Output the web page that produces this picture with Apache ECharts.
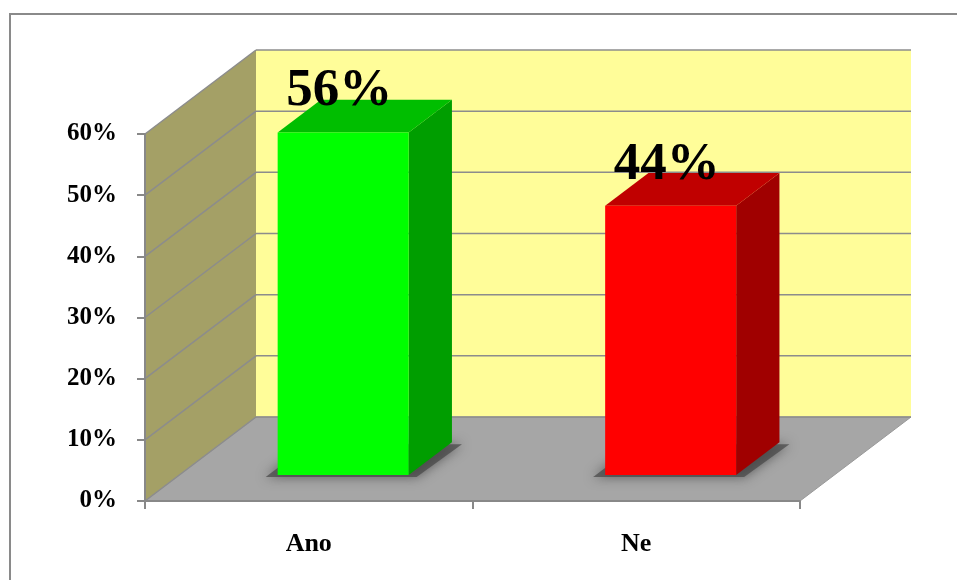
<!DOCTYPE html>
<html>
<head>
<meta charset="utf-8">
<title>Ano / Ne</title>
<script src="https://cdn.jsdelivr.net/npm/echarts@6/dist/echarts.min.js"></script>
<style>
  html, body { margin: 0; padding: 0; background: #fff; }
  #chart { width: 957px; height: 580px; }
</style>
</head>
<body>
<div id="chart"></div>
<script>
// data
const categories = ['Ano', 'Ne']
const shares = [0.56, 0.44]
const yTicks = [0, 0.1, 0.2, 0.3, 0.4, 0.5, 0.6]

// 3d look
const DX = 111, DY = -84        // depth of the box in pixels
const Z0 = 0.31, Z1 = 0.70      // where the bars sit inside the depth
const faceColors = [
  { front: '#00FF00', top: '#00BE00', side: '#009E00' },
  { front: '#FF0000', top: '#C00000', side: '#A00000' }
]
const gridColor = '#8C8C8C'
const serif = '"Liberation Serif", "Times New Roman", serif'

const chart = echarts.init(document.getElementById('chart'), null, { renderer: 'canvas' })

function renderWalls(params, api) {
  const cs = params.coordSys
  const x0 = cs.x, x1 = cs.x + cs.width
  const yTop = cs.y, yBot = cs.y + cs.height
  const children = [
    { type: 'rect', shape: { x: x0 + DX, y: yTop + DY, width: cs.width, height: cs.height },
      style: { fill: '#FFFD99' } },
    { type: 'polygon', shape: { points: [[x0, yTop], [x0 + DX, yTop + DY], [x0 + DX, yBot + DY], [x0, yBot]] },
      style: { fill: '#A4A066' } },
    { type: 'polygon', shape: { points: [[x0, yBot], [x0 + DX, yBot + DY], [x1 + DX, yBot + DY], [x1, yBot]] },
      style: { fill: '#A6A6A6', stroke: '#999', lineWidth: 1 } }
  ]
  yTicks.forEach(v => {
    const y = api.coord([0, v])[1]
    children.push({ type: 'line', shape: { x1: x0 + DX, y1: y + DY, x2: x1 + DX, y2: y + DY },
      style: { stroke: gridColor, lineWidth: 1.5 } })
    children.push({ type: 'line', shape: { x1: x0, y1: y, x2: x0 + DX, y2: y + DY },
      style: { stroke: gridColor, lineWidth: 1.5 } })
  })
  return { type: 'group', children: children }
}

function renderBar(params, api) {
  const i = params.dataIndex
  const top = api.coord([api.value(0), api.value(1)])
  const base = api.coord([api.value(0), 0])
  const w = api.size([1, 0])[0] * 0.4
  const L = top[0] - w / 2, R = top[0] + w / 2
  const ox0 = DX * Z0, oy0 = DY * Z0, ox1 = DX * Z1, oy1 = DY * Z1
  const c = faceColors[i]
  return {
    type: 'group',
    children: [
      // soft shadow on the floor
      { type: 'polygon',
        shape: { points: [[L + ox0 - 12, base[1] + oy0 + 2], [L + ox1 - 12, base[1] + oy1 + 2],
                          [R + ox1 + 10, base[1] + oy1 + 2], [R + ox0 + 8, base[1] + oy0 + 2]] },
        style: { fill: 'rgba(70,70,70,0.7)', shadowBlur: 12, shadowColor: 'rgba(50,50,50,0.9)' } },
      { type: 'polygon',
        shape: { points: [[R + ox0, top[1] + oy0], [R + ox1, top[1] + oy1], [R + ox1, base[1] + oy1], [R + ox0, base[1] + oy0]] },
        style: { fill: c.side } },
      { type: 'polygon',
        shape: { points: [[L + ox0, top[1] + oy0], [L + ox1, top[1] + oy1], [R + ox1, top[1] + oy1], [R + ox0, top[1] + oy0]] },
        style: { fill: c.top } },
      { type: 'rect',
        shape: { x: L + ox0, y: top[1] + oy0, width: w, height: base[1] - top[1] },
        style: { fill: c.front } },
      { type: 'text',
        x: top[0] + ox0 - 4, y: top[1] + oy1 - 8,
        style: { text: Math.round(api.value(1) * 100) + '%', fill: '#000',
                 font: 'bold 53px ' + serif, align: 'center', verticalAlign: 'middle' } }
    ]
  }
}

chart.setOption({
  backgroundColor: '#fff',
  animation: false,
  graphic: [{
    type: 'rect', shape: { x: 10, y: 14, width: 960, height: 600 },
    style: { fill: null, stroke: '#8A8A8A', lineWidth: 2 }, z: 100
  }],
  grid: { left: 145, right: 157, top: 134, bottom: 79 },
  xAxis: {
    type: 'category',
    data: categories,
    axisLine: { lineStyle: { color: '#888', width: 2 } },
    axisTick: { show: true, length: 8, lineStyle: { color: '#888', width: 2 } },
    axisLabel: { margin: 30, color: '#000', fontFamily: serif, fontWeight: 'bold', fontSize: 26 },
    z: 10
  },
  yAxis: {
    type: 'value',
    min: 0,
    max: 0.6,
    interval: 0.1,
    splitLine: { show: false },
    axisLine: { show: true, lineStyle: { color: '#888', width: 2 } },
    axisTick: { show: true, length: 8, lineStyle: { color: '#888', width: 2 } },
    axisLabel: { margin: 28, color: '#000', fontFamily: serif, fontWeight: 'bold', fontSize: 25,
                 padding: [6, 0, 0, 0],
                 formatter: v => Math.round(v * 100) + '%' },
    z: 10
  },
  series: [
    { type: 'custom', renderItem: renderWalls, data: [[0, 0]], z: 1, silent: true },
    { type: 'custom', renderItem: renderBar, z: 5,
      data: categories.map((c, i) => [i, shares[i]]) }
  ]
})
</script>
</body>
</html>
